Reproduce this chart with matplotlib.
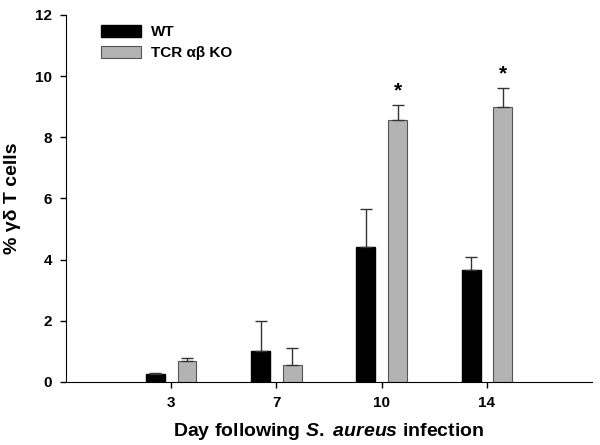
import matplotlib.pyplot as plt
import numpy as np

plt.rcParams['font.family'] = ['Liberation Sans', 'DejaVu Sans']
plt.rcParams['mathtext.fontset'] = 'custom'
plt.rcParams['mathtext.rm'] = 'Liberation Sans:bold'
plt.rcParams['mathtext.it'] = 'Liberation Sans:italic:bold'
plt.rcParams['mathtext.bf'] = 'Liberation Sans:bold'

days = ["3", "7", "10", "14"]
wt = [0.26, 1.0, 4.4, 3.65]
wt_err = [0.05, 1.0, 1.25, 0.45]
ko = [0.7, 0.55, 8.57, 9.0]
ko_err = [0.1, 0.55, 0.5, 0.6]
signif = ["", "", "*", "*"]

fig = plt.figure(figsize=(6.0, 4.45), dpi=100)
ax = fig.add_axes([0.11, 0.1416, 0.877, 0.825])

x = np.arange(1, len(days) + 1)
w = 0.18
off = 0.15
errkw = dict(ecolor="#333333", elinewidth=1.0, capsize=4, capthick=1.0)
ax.bar(x - off, wt, w, color="black", edgecolor="black", label="WT",
       yerr=[np.zeros(len(wt)), wt_err], error_kw=errkw, zorder=2)
ax.bar(x + off, ko, w, color="#b3b3b3", edgecolor="#555555", linewidth=0.8,
       label="TCR αβ KO",
       yerr=[np.zeros(len(ko)), ko_err], error_kw=errkw, zorder=2)

for xi, v, e, s in zip(x, ko, ko_err, signif):
    if s:
        ax.text(xi + off, v + e + 0.15, s, ha="center", va="bottom",
                fontsize=15, fontweight="bold")

ax.set_xlim(0, 5)
ax.set_ylim(0, 12)
ax.set_xticks(x)
ax.set_xticklabels(days)
ax.set_yticks(np.arange(0, 13, 2))
for lab in ax.get_xticklabels() + ax.get_yticklabels():
    lab.set_fontweight("bold")
    lab.set_fontsize(11)
ax.tick_params(direction="out", length=4, width=1, pad=6)
ax.spines["top"].set_visible(False)
ax.spines["right"].set_visible(False)

ax.set_ylabel("% γδ T cells", fontsize=14, fontweight="bold", labelpad=10)
ax.set_xlabel(r"Day following $\mathit{S.\ aureus}$ infection",
              fontsize=14, fontweight="bold", labelpad=8)

leg = ax.legend(loc="upper left", bbox_to_anchor=(0.04, 1.01), frameon=False,
                prop={"weight": "bold", "size": 11}, handlelength=2.6,
                handleheight=0.8, labelspacing=0.45, handletextpad=0.7)

fig.savefig("out.png", dpi=100)
